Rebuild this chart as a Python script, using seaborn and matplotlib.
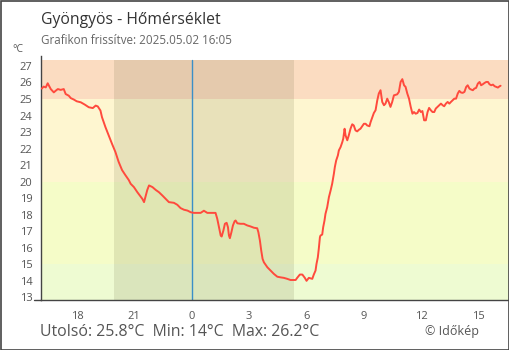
import matplotlib
matplotlib.use("Agg")
import matplotlib.pyplot as plt
import seaborn as sns
import pandas as pd
from matplotlib.patches import Rectangle

# ---- data (hours since 2025-05-01 00:00, temperature in °C) ----
hours = [16.16, 16.26, 16.37, 16.47, 16.63, 16.79, 16.89, 17.0, 17.15, 17.31,
         17.41, 17.57, 17.68, 17.83, 17.99, 18.2, 18.41, 18.62, 18.83, 18.98,
         19.09, 19.23, 19.31, 19.49, 19.66, 19.83, 20.01, 20.18, 20.36, 20.53,
         20.71, 20.81, 20.98, 21.16, 21.33, 21.42, 21.51, 21.6, 21.68, 21.77,
         21.95, 22.12, 22.29, 22.47, 22.64, 22.81, 23.07, 23.25, 23.42, 23.6,
         23.78, 23.95, 24.12, 24.3, 24.47, 24.64, 24.82, 24.99, 25.25, 25.34,
         25.43, 25.52, 25.57, 25.66, 25.74, 25.83, 25.9, 25.95, 26.0, 26.08,
         26.16, 26.25, 26.3, 26.39, 26.56, 26.73, 26.91, 27.08, 27.26, 27.43,
         27.49, 27.57, 27.64, 27.71, 27.78, 27.96, 28.13, 28.3, 28.48, 28.65,
         28.82, 29.0, 29.17, 29.44, 29.52, 29.66, 29.79, 29.92, 30.01, 30.13,
         30.31, 30.39, 30.48, 30.53, 30.6, 30.65, 30.71, 30.74, 30.83, 30.88,
         30.95, 31.0, 31.09, 31.18, 31.27, 31.35, 31.44, 31.49, 31.56, 31.65,
         31.7, 31.79, 31.88, 31.93, 32.0, 32.05, 32.14, 32.22, 32.31, 32.4,
         32.48, 32.57, 32.66, 32.75, 32.83, 32.92, 33.01, 33.1, 33.18, 33.3,
         33.36, 33.45, 33.53, 33.62, 33.71, 33.79, 33.88, 33.97, 34.06, 34.14,
         34.23, 34.31, 34.4, 34.49, 34.58, 34.75, 34.84, 34.93, 35.02, 35.11,
         35.19, 35.28, 35.37, 35.46, 35.55, 35.63, 35.72, 35.81, 35.9, 35.99,
         36.07, 36.16, 36.25, 36.34, 36.42, 36.51, 36.6, 36.69, 36.77, 36.86,
         36.95, 37.04, 37.13, 37.21, 37.3, 37.39, 37.48, 37.56, 37.65, 37.74,
         37.83, 37.92, 38.0, 38.09, 38.18, 38.27, 38.36, 38.44, 38.53, 38.62,
         38.71, 38.79, 38.88, 38.97, 39.06, 39.14, 39.23, 39.32, 39.41, 39.5,
         39.58, 39.67, 39.76, 39.85, 39.93, 40.02, 40.11, 40.16]
temps = [25.63, 25.75, 25.7, 25.95, 25.6, 25.4, 25.5, 25.6, 25.55, 25.6,
         25.3, 25.2, 25.05, 24.97, 24.86, 24.8, 24.66, 24.5, 24.45, 24.6,
         24.55, 24.3, 23.9, 23.3, 22.8, 22.3, 21.8, 21.2, 20.7, 20.4,
         20.1, 19.87, 19.67, 19.36, 19.1, 18.96, 18.76, 19.16, 19.5, 19.77,
         19.67, 19.5, 19.36, 19.16, 18.96, 18.76, 18.72, 18.6, 18.4, 18.3,
         18.25, 18.15, 18.11, 18.11, 18.11, 18.24, 18.11, 18.11, 18.11, 17.75,
         17.24, 16.74, 16.68, 17.04, 17.45, 17.51, 17.24, 16.74, 16.58, 16.94,
         17.35, 17.61, 17.65, 17.48, 17.45, 17.45, 17.35, 17.29, 17.21, 17.18,
         16.94, 16.44, 15.83, 15.33, 15.12, 14.82, 14.62, 14.42, 14.25, 14.21,
         14.18, 14.12, 14.05, 14.05, 14.18, 14.38, 14.38, 14.18, 14.0, 14.18,
         14.12, 14.38, 14.62, 15.02, 15.42, 15.93, 16.64, 16.74, 16.8, 17.24,
         17.65, 18.05, 18.45, 19.06, 19.47, 19.87, 20.48, 20.88, 21.28, 21.59,
         21.89, 22.09, 22.39, 22.6, 23.2, 22.8, 22.5, 22.8, 23.2, 23.47,
         23.4, 23.1, 23.04, 23.14, 23.2, 23.35, 23.5, 23.5, 23.4, 23.35,
         23.6, 23.9, 24.15, 24.32, 24.92, 25.33, 25.53, 24.82, 24.62, 24.72,
         25.02, 24.82, 24.52, 24.82, 25.22, 25.28, 25.43, 26.03, 26.2, 25.83,
         25.73, 25.33, 25.02, 24.52, 24.11, 24.21, 24.11, 24.15, 24.36, 24.21,
         24.27, 23.71, 23.71, 24.21, 24.46, 24.32, 24.21, 24.21, 24.42, 24.52,
         24.62, 24.72, 24.62, 24.56, 24.72, 24.82, 24.72, 24.82, 24.92, 25.02,
         25.02, 25.33, 25.49, 25.39, 25.37, 25.43, 25.73, 25.83, 25.63, 25.57,
         25.53, 25.63, 25.67, 25.93, 26.03, 25.83, 25.89, 25.97, 26.03, 26.03,
         25.89, 25.83, 25.87, 25.77, 25.73, 25.69, 25.77, 25.8]

tick_hours = [18, 21, 24, 27, 30, 33, 36, 39]
tick_labels = ["18", "21", "0", "3", "6", "9", "12", "15"]
y_ticks = list(range(13, 28))
band_edges = [12.84, 15, 20, 25, 27.35]
band_colors = ["#EEFBD2", "#F5FCC8", "#FEF6D0", "#FBDCC1"]
night_start, night_end = 19.92, 29.33
midnight = 24

title = "Gyöngyös - Hőmérséklet"
subtitle = "Grafikon frissítve: 2025.05.02 16:05"
footer = "Utolsó: 25.8°C  Min: 14°C  Max: 26.2°C"
credit = "© Időkép"

sns.set_style("white")
plt.rcParams["font.family"] = ["Open Sans", "DejaVu Sans"]

df = pd.DataFrame({"hour": hours, "temp": temps})

fig = plt.figure(figsize=(5.1, 3.5), dpi=100)
ax = fig.add_axes([41 / 510, 50 / 350, 468 / 510, 244 / 350])

x0, x1 = 16.12, 40.6
ax.set_xlim(x0, x1)
ax.set_ylim(12.84, 27.6)

for lo, hi, c in zip(band_edges[:-1], band_edges[1:], band_colors):
    ax.add_patch(Rectangle((x0, lo), x1 - x0, hi - lo, facecolor=c, edgecolor="none", zorder=0))
ax.add_patch(Rectangle((night_start, band_edges[0]), night_end - night_start,
                       band_edges[-1] - band_edges[0], facecolor="#3a3a10", alpha=0.11,
                       edgecolor="none", zorder=1))
ax.plot([midnight, midnight], [band_edges[0], band_edges[-1]], color="#3a8fc8", lw=1.0, zorder=2)

sns.lineplot(data=df, x="hour", y="temp", ax=ax, color="#ff4a3d", linewidth=1.4, zorder=3)

ax.set_xlabel("")
ax.set_ylabel("")
ax.set_xticks(tick_hours)
ax.set_xticklabels(tick_labels)
ax.set_yticks(y_ticks)
ax.set_yticklabels([str(v) for v in y_ticks])
ax.tick_params(axis="x", direction="in", length=6, width=1, color="#444444",
               labelsize=8, labelcolor="#555555", pad=8)
ax.tick_params(axis="y", direction="inout", length=12, width=1, color="#444444",
               labelsize=8, labelcolor="#555555", pad=0)
for s in ["top", "right"]:
    ax.spines[s].set_visible(False)
for s in ["left", "bottom"]:
    ax.spines[s].set_color("#444444")
    ax.spines[s].set_linewidth(1)
# bottom axis extension to the left
ax.plot([-7 / 468, 0], [0, 0], transform=ax.transAxes, color="#444444", lw=1, clip_on=False)

fig.text(41 / 510, 1 - 20 / 350, title, fontsize=11.3, color="#333333", va="center", ha="left")
fig.text(41 / 510, 1 - 41 / 350, subtitle, fontsize=8.4, color="#666666", va="center", ha="left")
fig.text(12 / 510, 1 - 50 / 350, "°C", fontsize=7.5, color="#555555", va="center", ha="left")
fig.text(40 / 510, 1 - 332 / 350, footer, fontsize=11.4, color="#555555", va="center", ha="left")
fig.text(425 / 510, 1 - 331 / 350, credit, fontsize=9, color="#555555", va="center", ha="left")

fig.patches.append(Rectangle((0.5 / 510, 0.5 / 350), 1 - 1.5 / 510, 1 - 1.5 / 350,
                             transform=fig.transFigure, fill=False, edgecolor="#444444",
                             lw=1.2, zorder=10))

fig.savefig("out.png", dpi=100)
